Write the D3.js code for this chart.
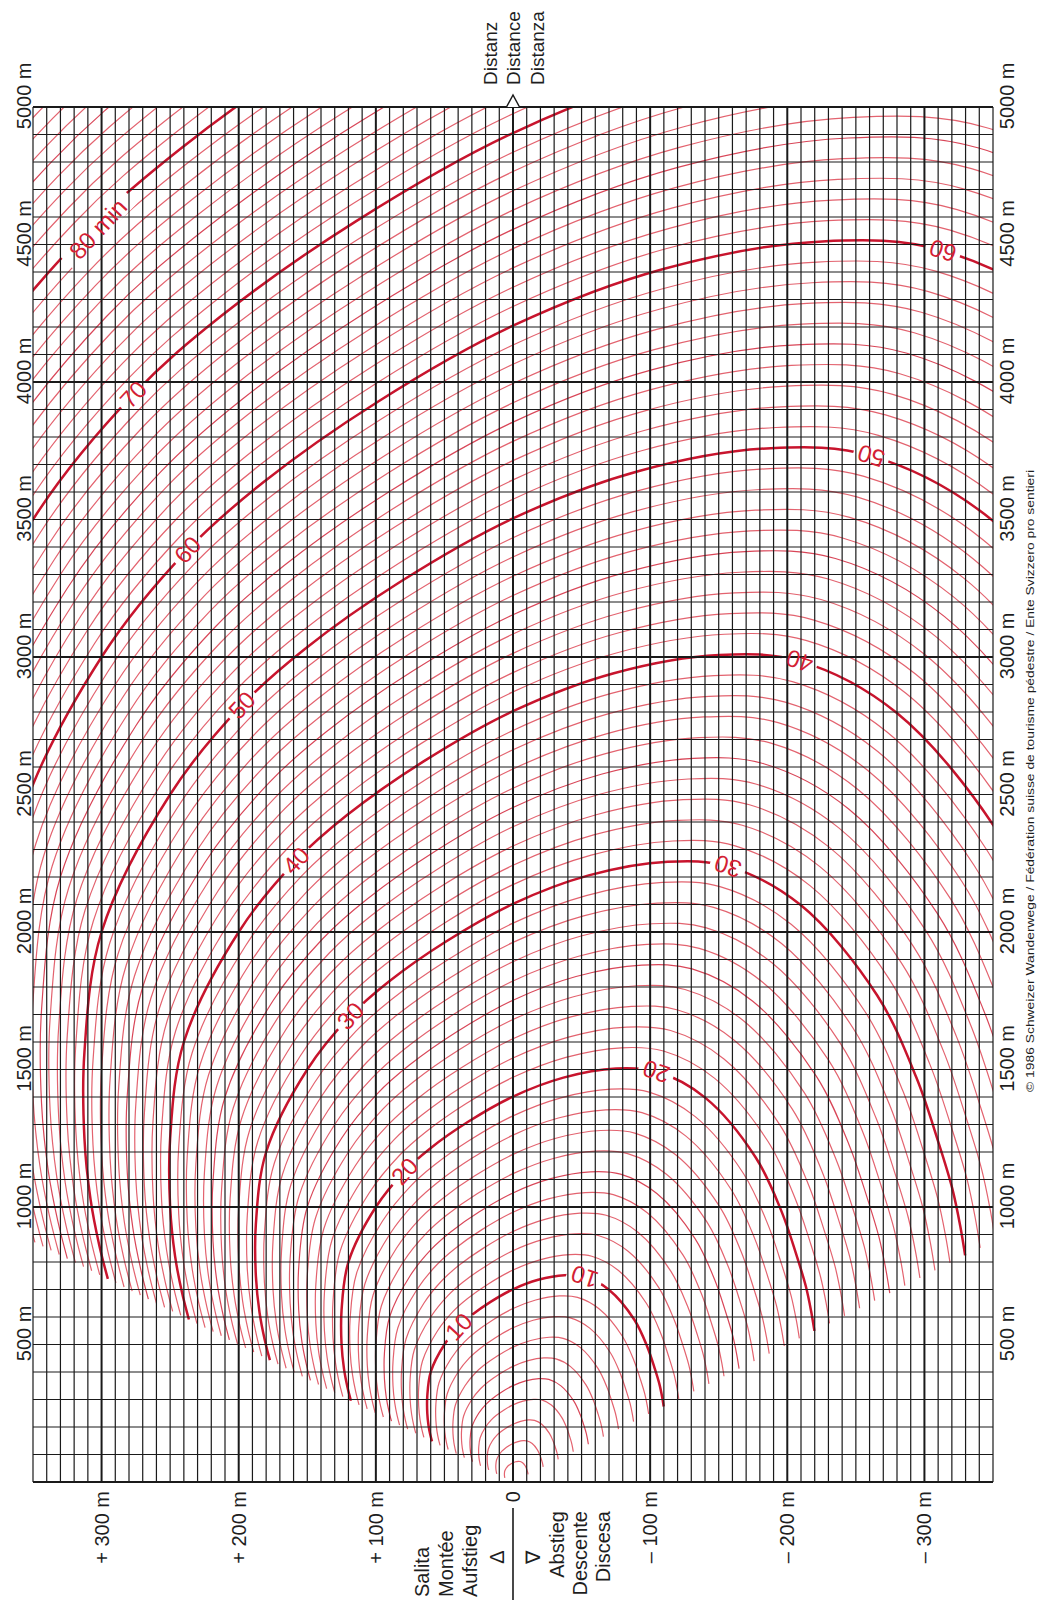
<!DOCTYPE html>
<html>
<head>
<meta charset="utf-8">
<script src="https://cdn.jsdelivr.net/npm/d3@7"></script>
<style>
  body { margin: 0; background: #fff; }
  svg text { font-family: "Liberation Sans", Arial, sans-serif; }
</style>
</head>
<body>
<script>
// walking pace (min per km) at each gradient (%)
var slopes = [-40, -35, -30, -25, -20, -15, -10, -7, -5, -2.5, 0, 2.5, 5, 7, 10, 15, 20, 25, 30, 35, 40];
var pace   = [36.4, 32.2, 28.1, 24.2, 20.4, 16.95, 14.3, 13.4, 13.3, 13.6, 14.27, 15.27, 16.5, 17.7, 20, 25, 32, 40, 48.7, 58, 67.7];

// one curve per minute, labelled every ten
var minutes = [
  1, 2, 3, 4, 5, 6, 7, 8, 9, 10, 11, 12, 13, 14, 15, 16, 17, 18, 19, 20,
  21, 22, 23, 24, 25, 26, 27, 28, 29, 30, 31, 32, 33, 34, 35, 36, 37, 38, 39, 40,
  41, 42, 43, 44, 45, 46, 47, 48, 49, 50, 51, 52, 53, 54, 55, 56, 57, 58, 59, 60,
  61, 62, 63, 64, 65, 66, 67, 68, 69, 70, 71, 72, 73, 74, 75, 76, 77, 78, 79, 80,
  81, 82, 83, 84, 85, 86, 87, 88, 89, 90
];
var labelMinutes = [10, 20, 30, 40, 50, 60, 70, 80];

var distanceTicks = [500, 1000, 1500, 2000, 2500, 3000, 3500, 4000, 4500, 5000];
var elevTicks  = [300, 200, 100, 0, -100, -200, -300];
var elevLabels = ['+ 300 m', '+ 200 m', '+ 100 m', '0', '– 100 m', '– 200 m', '– 300 m'];

var upText   = ['Salita', 'Montée', 'Aufstieg'];
var downText = ['Abstieg', 'Descente', 'Discesa'];
var axisText = ['Distanz', 'Distance', 'Distanza'];
var credit = '© 1986 Schweizer Wanderwege / Fédération suisse de tourisme pédestre / Ente Svizzero pro sentieri';

var width = 1040;
var height = 1604;

var x = d3.scaleLinear().domain([350, -350]).range([33, 993]);   // elevation difference
var y = d3.scaleLinear().domain([0, 5000]).range([1482, 107]);   // distance

var svg = d3.select('body')
  .append('svg')
    .attr('width', width)
    .attr('height', height);

var defs = svg.append('defs');
defs.append('clipPath').attr('id', 'plot')
  .append('rect')
    .attr('x', x(350)).attr('y', y(5000))
    .attr('width', x(-350) - x(350)).attr('height', y(0) - y(5000));

// point of the t-minute curve at gradient index i
function pt(t, i) {
  var d = 1000 * t / pace[i];
  return [x(slopes[i] / 100 * d), y(d)];
}

// label placement along the curves (at +7 % and -7 %)
var iUp = slopes.indexOf(7), iDown = slopes.indexOf(-7);
var labels = [];
labelMinutes.forEach(function(t) {
  var p = pt(t, iUp), a = pt(t, iUp + 1), b = pt(t, iUp - 1);
  var ang = Math.atan2(b[1] - a[1], b[0] - a[0]);
  var last = t === 80;   // "80 min" sits a little further along its curve
  labels.push({
    text: last ? '80 min' : String(t),
    x: p[0] + (last ? Math.cos(ang) * 22 + 4 : 0),
    y: p[1] + (last ? Math.sin(ang) * 22 + 6 : 0),
    angle: ang * 180 / Math.PI
  });
  var q = pt(t, iDown), c = pt(t, iDown - 1), e = pt(t, iDown + 1);
  if (q[0] < x(-350) - 12 && q[1] > y(5000) + 12) {
    labels.push({
      text: String(t),
      x: q[0], y: q[1],
      angle: Math.atan2(e[1] - c[1], e[0] - c[0]) * 180 / Math.PI
    });
  }
});

// gaps in the curves behind the labels
var mask = defs.append('mask').attr('id', 'gaps')
  .attr('maskUnits', 'userSpaceOnUse')
  .attr('x', 0).attr('y', 0).attr('width', width).attr('height', height);
mask.append('rect').attr('width', width).attr('height', height).attr('fill', '#fff');
mask.selectAll('.gap')
  .data(labels)
  .enter().append('rect')
    .attr('x', function(d) { return -d.text.length * 7 - 4; })
    .attr('y', -11)
    .attr('width', function(d) { return d.text.length * 14 + 8; })
    .attr('height', 22)
    .attr('fill', '#000')
    .attr('transform', function(d) {
      return 'translate(' + d.x + ',' + d.y + ') rotate(' + d.angle + ')';
    });

// time curves
var line = d3.line().curve(d3.curveCatmullRom.alpha(0.5));

var curves = svg.append('g')
  .attr('clip-path', 'url(#plot)')
  .append('g')
    .attr('mask', 'url(#gaps)')
    .attr('fill', 'none');

curves.selectAll('path')
  .data(minutes)
  .enter().append('path')
    .attr('d', function(t) { return line(slopes.map(function(s, i) { return pt(t, i); })); })
    .attr('stroke', function(t) { return t % 10 === 0 ? '#c8142d' : (t % 5 === 0 ? '#d94658' : '#e3636f'); })
    .attr('stroke-width', function(t) { return t % 10 === 0 ? 2.5 : 1.2; });

// grid
var grid = svg.append('g');
grid.selectAll('.v')
  .data(d3.range(-350, 351, 10))
  .enter().append('line')
    .attr('x1', function(d) { return x(d); })
    .attr('x2', function(d) { return x(d); })
    .attr('y1', y(0)).attr('y2', y(5000))
    .attr('stroke', '#1a1a1a')
    .attr('stroke-width', function(d) { return d % 100 === 0 ? 2 : 1.2; });
grid.selectAll('.h')
  .data(d3.range(0, 5001, 100))
  .enter().append('line')
    .attr('y1', function(d) { return y(d); })
    .attr('y2', function(d) { return y(d); })
    .attr('x1', x(350)).attr('x2', x(-350))
    .attr('stroke', '#1a1a1a')
    .attr('stroke-width', function(d) { return d % 1000 === 0 ? 2 : 1.2; });

// curve labels
svg.append('g').selectAll('text')
  .data(labels)
  .enter().append('text')
    .attr('transform', function(d) {
      return 'translate(' + d.x + ',' + d.y + ') rotate(' + d.angle + ')';
    })
    .attr('text-anchor', 'middle')
    .attr('dy', '0.35em')
    .attr('font-size', 24)
    .attr('fill', '#d41f35')
    .text(function(d) { return d.text; });

// rotated text helper: reads bottom to top
function vtext(g, tx, ty, str, anchor, size) {
  return g.append('text')
    .attr('transform', 'translate(' + tx + ',' + ty + ') rotate(-90)')
    .attr('text-anchor', anchor)
    .attr('dy', '0.35em')
    .attr('font-size', size)
    .attr('fill', '#1e1e1e')
    .text(str);
}

var axes = svg.append('g');

// distance labels, number centred on its gridline
distanceTicks.forEach(function(d) {
  var half = String(d).length * 0.556 * 20 / 2;
  vtext(axes, 24, y(d) + half, d + ' m', 'start', 20);
  vtext(axes, 1007, y(d) + half, d + ' m', 'start', 20);
});

// elevation labels
elevTicks.forEach(function(h, i) {
  vtext(axes, x(h), 1491, elevLabels[i], 'end', 20);
});

upText.forEach(function(s, i) { vtext(axes, 422 + i * 24, 1597, s, 'start', 20); });
downText.forEach(function(s, i) { vtext(axes, 557 + i * 23, 1511, s, 'end', 20); });
vtext(axes, 497, 1557, 'Δ', 'middle', 20);
vtext(axes, 533, 1557, '∇', 'middle', 20);

axes.append('line')
  .attr('x1', x(0)).attr('x2', x(0))
  .attr('y1', 1508).attr('y2', 1600)
  .attr('stroke', '#1a1a1a').attr('stroke-width', 1.6);

// distance axis arrow and title
axes.append('path')
  .attr('d', d3.line()([[x(0) - 6.5, y(5000)], [x(0), y(5000) - 12], [x(0) + 6.5, y(5000)]]))
  .attr('fill', '#fff').attr('stroke', '#1a1a1a').attr('stroke-width', 1.5);
axisText.forEach(function(s, i) { vtext(axes, 490 + i * 23.5, 85, s, 'start', 19); });

vtext(axes, 1030, 1092, credit, 'start', 11.5)
  .attr('textLength', 622)
  .attr('lengthAdjust', 'spacingAndGlyphs');
</script>
</body>
</html>
